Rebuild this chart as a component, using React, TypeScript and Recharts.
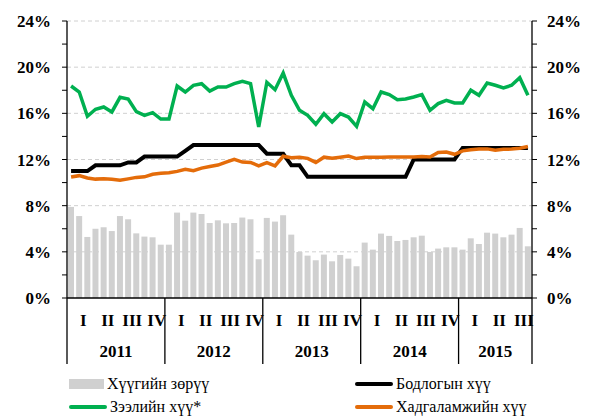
import React from 'react'
import { ComposedChart, Bar, Line, XAxis, YAxis, CartesianGrid } from 'recharts'

// months per year shown on the axis (2015 ends in September)
const years = ['2011', '2012', '2013', '2014', '2015']
const monthsPerYear = [12, 12, 12, 12, 9]
const quarters = ['I', 'II', 'III', 'IV']

const yTicks = [0, 2, 4, 6, 8, 10, 12, 14, 16, 18, 20, 22, 24]
const gridValues = [4, 8, 12, 16, 20, 24]

// Хүүгийн зөрүү (bars)
const spread = [
  7.89, 7.1, 5.29, 6.0, 6.13, 5.8, 7.1, 6.82, 5.6, 5.32, 5.26, 4.62,
  4.62, 7.4, 6.7, 7.4, 7.28, 6.5, 6.73, 6.47, 6.5, 6.97, 6.82, 3.35,
  6.94, 6.62, 7.17, 5.49, 3.99, 3.67, 3.27, 3.76, 3.18, 3.73, 3.41, 2.75,
  4.8, 4.19, 5.58, 5.38, 4.94, 5.03, 5.26, 5.4, 3.99, 4.28, 4.39, 4.39,
  4.19, 5.17, 4.68, 5.66, 5.58, 5.26, 5.49, 6.07, 4.48,
]

// Зээлийн хүү*
const lending = [
  18.37, 17.85, 15.74, 16.35, 16.55, 16.12, 17.39, 17.24, 16.14, 15.83, 16.06, 15.5,
  15.5, 18.37, 17.85, 18.43, 18.57, 17.93, 18.28, 18.28, 18.57, 18.77, 18.57, 14.82,
  18.69, 18.05, 19.49, 17.56, 16.26, 15.83, 15.05, 15.97, 15.25, 15.97, 15.68, 14.87,
  16.98, 16.4, 17.85, 17.62, 17.18, 17.24, 17.42, 17.62, 16.26, 16.84, 17.13, 16.9,
  16.9, 18.0, 17.56, 18.63, 18.43, 18.2, 18.43, 19.09, 17.56,
]

// Бодлогын хүү
const policy = [
  11, 11, 11, 11.5, 11.5, 11.5, 11.5, 11.75, 11.75, 12.25, 12.25, 12.25,
  12.25, 12.25, 12.75, 13.25, 13.25, 13.25, 13.25, 13.25, 13.25, 13.25, 13.25, 13.25,
  12.5, 12.5, 12.5, 11.5, 11.5, 10.5, 10.5, 10.5, 10.5, 10.5, 10.5, 10.5,
  10.5, 10.5, 10.5, 10.5, 10.5, 10.5, 12, 12, 12, 12, 12, 12,
  13, 13, 13, 13, 13, 13, 13, 13, 13,
]

// Хадгаламжийн хүү
const deposit = [
  10.48, 10.6, 10.4, 10.3, 10.34, 10.28, 10.2, 10.32, 10.45, 10.5, 10.72, 10.8,
  10.85, 10.97, 11.15, 11.03, 11.25, 11.4, 11.52, 11.78, 12.02, 11.78, 11.75, 11.45,
  11.73, 11.45, 12.28, 12.15, 12.2, 12.1, 11.75, 12.2, 12.1, 12.2, 12.3, 12.08,
  12.2, 12.2, 12.2, 12.22, 12.22, 12.22, 12.22, 12.25, 12.22, 12.6, 12.65, 12.45,
  12.75, 12.85, 12.9, 12.92, 12.8, 12.88, 12.9, 12.97, 13.12,
]

const months: { year: number; m: number }[] = []
years.forEach((_, yi) => {
  for (let m = 0; m < monthsPerYear[yi]; m++) months.push({ year: yi, m })
})

const data = months.map((mo, i) => ({
  month: `${years[mo.year]}-${mo.m + 1}`,
  spread: spread[i],
  lending: lending[i],
  policy: policy[i],
  deposit: deposit[i],
}))

const W = 593
const H = 417
const PLOT_W = 465
const font = '"Liberation Serif", "Times New Roman", serif'

const MonthTick = (props: any) => {
  const { x, y, index, payload } = props
  const bw = payload && payload.offset ? payload.offset * 2 : PLOT_W / data.length
  const mo = months[index]
  if (!mo) return null
  const parts: React.ReactNode[] = []
  const left = x - bw / 2
  if (mo.m === 0) {
    parts.push(<line key="s" x1={left} x2={left} y1={y} y2={y + 66} stroke="#000" strokeWidth={1.3} />)
    parts.push(
      <text key="y" x={left + (monthsPerYear[mo.year] * bw) / 2} y={y + 55} textAnchor="middle"
        dominantBaseline="middle" fontFamily={font} fontWeight="bold" fontSize={17} fill="#000">
        {years[mo.year]}
      </text>
    )
  }
  if (index === data.length - 1) {
    parts.push(<line key="e" x1={x + bw / 2} x2={x + bw / 2} y1={y} y2={y + 66} stroke="#000" strokeWidth={1.3} />)
  }
  if (mo.m % 3 === 1) {
    parts.push(
      <text key="q" x={x + bw / 2} y={y + 24} textAnchor="middle" dominantBaseline="middle"
        fontFamily={font} fontWeight="bold" fontSize={17} fill="#000">
        {quarters[(mo.m - 1) / 3]}
      </text>
    )
  }
  return <g>{parts}</g>
}

const tickStyle = { fontFamily: font, fontWeight: 'bold', fontSize: 17, fill: '#000' }
const fmt = (v: number) => (v % 4 === 0 ? `${v}%` : '')

const legendItems = [
  { label: 'Хүүгийн зөрүү', color: '#d0d0d0', bar: true, left: 69, top: 384 },
  { label: 'Бодлогын хүү', color: '#000000', bar: false, left: 355, top: 384 },
  { label: 'Зээлийн хүү*', color: '#00b050', bar: false, left: 69, top: 407 },
  { label: 'Хадгаламжийн хүү', color: '#e46c0a', bar: false, left: 355, top: 407 },
]

export default function App() {
  return (
    <div style={{ position: 'absolute', left: 0, top: 0, width: W, height: H, background: '#fff' }}>
      <ComposedChart width={W} height={H} data={data} margin={{ top: 21, right: 6, bottom: 44, left: 7 }}>
        <CartesianGrid yAxisId="left" vertical={false} horizontalValues={gridValues}
          stroke="#d0d0d0" strokeDasharray="4 3" />
        <XAxis dataKey="month" yAxisId="left" interval={0} tickLine={false} tickSize={0} tickMargin={0}
          height={75} axisLine={{ stroke: '#000', strokeWidth: 1.3 }} tick={<MonthTick />} />
        <YAxis yAxisId="left" domain={[0, 24]} ticks={yTicks} width={60} tickSize={5} tickMargin={11}
          tickFormatter={fmt} tick={tickStyle} axisLine={{ stroke: '#000', strokeWidth: 1.3 }}
          tickLine={{ stroke: '#000' }} interval={0} />
        <YAxis yAxisId="right" orientation="right" domain={[0, 24]} ticks={yTicks} width={55} tickSize={5}
          tickMargin={10} tickFormatter={fmt} tick={tickStyle} axisLine={{ stroke: '#000', strokeWidth: 1.3 }}
          tickLine={{ stroke: '#000' }} interval={0} allowDataOverflow />
        <Bar yAxisId="left" dataKey="spread" fill="#d0d0d0" barSize={6} isAnimationActive={false} />
        <Line yAxisId="left" type="linear" dataKey="lending" stroke="#00b050" strokeWidth={3.5} dot={false} isAnimationActive={false} />
        <Line yAxisId="left" type="linear" dataKey="policy" stroke="#000000" strokeWidth={4} dot={false} isAnimationActive={false} />
        <Line yAxisId="left" type="linear" dataKey="deposit" stroke="#e46c0a" strokeWidth={3.5} dot={false} isAnimationActive={false} />
      </ComposedChart>
      {legendItems.map((it) => (
        <div key={it.label} style={{ position: 'absolute', left: it.left, top: it.top - 10, height: 20,
          display: 'flex', alignItems: 'center', fontFamily: font, fontSize: 16, color: '#000', whiteSpace: 'nowrap' }}>
          <span style={{ display: 'inline-block', width: it.bar ? 35 : 38, height: it.bar ? 10 : 4,
            background: it.color, borderRadius: it.bar ? 0 : 2, marginRight: 3 }} />
          {it.label}
        </div>
      ))}
    </div>
  )
}
